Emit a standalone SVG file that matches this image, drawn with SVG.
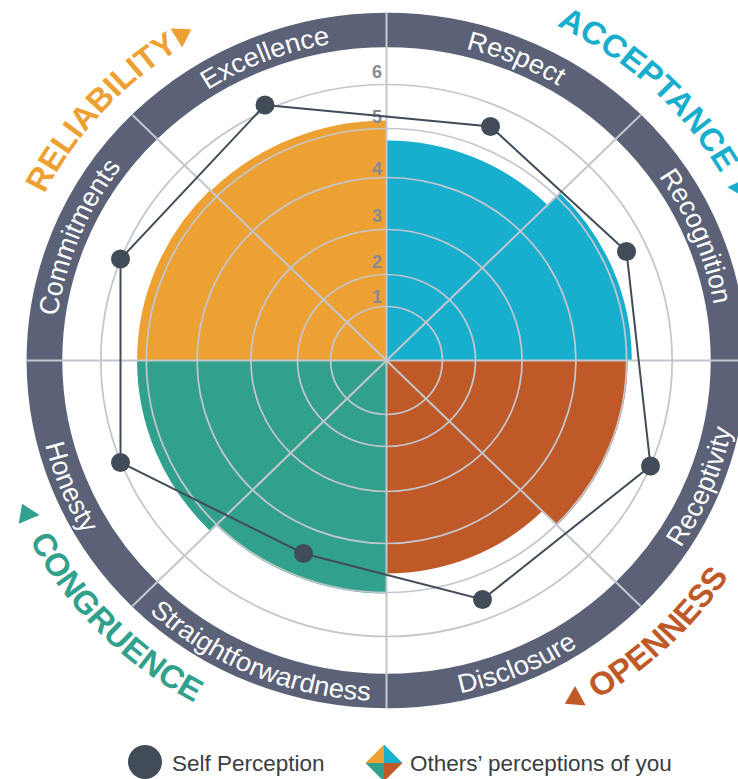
<svg xmlns="http://www.w3.org/2000/svg" width="738" height="779" viewBox="0 0 738 779">
<defs>
<style>
.grid{fill:none;stroke:#c3c6cd;stroke-width:1.7}
.spoke{stroke:#c3c6cd;stroke-width:2}
.ring{fill:none;stroke:#5b6176;stroke-width:34.5}
.rl{font-family:"Liberation Sans",Arial,sans-serif;font-size:26.5px;fill:#ffffff}
.cat{font-family:"Liberation Sans",Arial,sans-serif;font-size:32px;font-weight:bold}
.num{font-family:"Liberation Sans",Arial,sans-serif;font-size:18px;font-weight:bold;fill:#868b97;text-anchor:end}
.leg{font-family:"Liberation Sans",Arial,sans-serif;font-size:22.5px;fill:#3a3d42}
.dot{fill:#414c58}
.orange{fill:#eea133}.cyan{fill:#18aece}.red{fill:#bf5927}.teal{fill:#31a08c}
</style>
<path id="p-com" d="M -321,0 A 321 321 0 0 1 -226.98,-226.98"/>
<path id="p-exc" d="M -226.98,-226.98 A 321 321 0 0 1 0,-321"/>
<path id="p-res" d="M 0,-321 A 321 321 0 0 1 226.98,-226.98"/>
<path id="p-rec" d="M 226.98,-226.98 A 321 321 0 0 1 321,0"/>
<path id="p-rcp" d="M 240.77,240.77 A 340.5 340.5 0 0 0 340.5,0"/>
<path id="p-dis" d="M 0,340.5 A 340.5 340.5 0 0 0 240.77,240.77"/>
<path id="p-str" d="M -240.77,240.77 A 340.5 340.5 0 0 0 0,340.5"/>
<path id="p-hon" d="M -340.5,0 A 340.5 340.5 0 0 0 -240.77,240.77"/>
<path id="p-rel" d="M -369.77,-12.91 A 370 370 0 0 1 -51.49,-366.40"/>
<path id="p-acc" d="M 19.52,-372.49 A 373 373 0 0 1 370.22,-45.46"/>
<path id="p-ope" d="M 27.55,394.04 A 395 395 0 0 0 392.84,41.29"/>
<path id="p-con" d="M -387.80,30.52 A 389 389 0 0 0 -37.28,387.21"/>
<polygon id="tri" points="-8,-11 9,0 -8,11"/>
</defs>

<g transform="translate(386.5,360.5) scale(1.035,1)">
  <g id="fills">
    <path id="respect" class="cyan" d="M0,0 L0,-220 A220 220 0 0 1 155.56,-155.56 Z"/>
    <path id="recognition" class="cyan" d="M0,0 L167.58,-167.58 A237 237 0 0 1 237,0 Z"/>
    <path id="receptivity" class="red" d="M0,0 L233,0 A233 233 0 0 1 164.76,164.76 Z"/>
    <path id="disclosure" class="red" d="M0,0 L150.61,150.61 A213 213 0 0 1 0,213 Z"/>
    <path id="straightforwardness" class="teal" d="M0,0 L0,233 A233 233 0 0 1 -164.76,164.76 Z"/>
    <path id="honesty" class="teal" d="M0,0 L-170.41,170.41 A241 241 0 0 1 -241,0 Z"/>
    <path id="commitments" class="orange" d="M0,0 L-241,0 A241 241 0 0 1 -170.41,-170.41 Z"/>
    <path id="excellence" class="orange" d="M0,0 L-169.71,-169.71 A240 240 0 0 1 0,-240 Z"/>
  </g>
  <circle id="ring" class="ring" cx="0" cy="0" r="330.5"/>
  <g id="grid">
    <circle class="grid" r="54"/>
    <circle class="grid" r="86"/>
    <circle class="grid" r="131"/>
    <circle class="grid" r="183"/>
    <circle class="grid" r="232"/>
    <circle class="grid" r="276"/>
    <line class="spoke" x1="0" y1="0" x2="0" y2="-347.5"/>
    <line class="spoke" x1="0" y1="0" x2="245.72" y2="-245.72"/>
    <line class="spoke" x1="0" y1="0" x2="347.5" y2="0"/>
    <line class="spoke" x1="0" y1="0" x2="245.72" y2="245.72"/>
    <line class="spoke" x1="0" y1="0" x2="0" y2="347.5"/>
    <line class="spoke" x1="0" y1="0" x2="-245.72" y2="245.72"/>
    <line class="spoke" x1="0" y1="0" x2="-347.5" y2="0"/>
    <line class="spoke" x1="0" y1="0" x2="-245.72" y2="-245.72"/>
  </g>
  <g id="ring-labels">
    <text class="rl" text-anchor="middle"><textPath href="#p-com" startOffset="50%">Commitments</textPath></text>
    <text class="rl" text-anchor="middle"><textPath href="#p-exc" startOffset="53%">Excellence</textPath></text>
    <text class="rl" text-anchor="middle"><textPath href="#p-res" startOffset="50%">Respect</textPath></text>
    <text class="rl" text-anchor="middle"><textPath href="#p-rec" startOffset="50%">Recognition</textPath></text>
    <text class="rl" text-anchor="middle"><textPath href="#p-rcp" startOffset="50%">Receptivity</textPath></text>
    <text class="rl" text-anchor="middle"><textPath href="#p-dis" startOffset="50%">Disclosure</textPath></text>
    <text class="rl" text-anchor="middle"><textPath href="#p-str" startOffset="50%">Straightforwardness</textPath></text>
    <text class="rl" text-anchor="middle"><textPath href="#p-hon" startOffset="50%">Honesty</textPath></text>
  </g>
  <g id="reliability">
    <text class="cat orange" text-anchor="middle"><textPath href="#p-rel" startOffset="50%">RELIABILITY</textPath></text>
    <use href="#tri" class="orange" transform="rotate(329) translate(0,-381)"/>
  </g>
  <g id="acceptance">
    <text class="cat cyan" text-anchor="middle"><textPath href="#p-acc" startOffset="50%">ACCEPTANCE</textPath></text>
    <use href="#tri" class="cyan" transform="rotate(63.5) translate(0,-383)"/>
  </g>
  <g id="openness">
    <text class="cat red" text-anchor="middle"><textPath href="#p-ope" startOffset="50%">OPENNESS</textPath></text>
    <use href="#tri" class="red" transform="rotate(152) translate(0,-384)"/>
  </g>
  <g id="congruence">
    <text class="cat teal" text-anchor="middle"><textPath href="#p-con" startOffset="50%">CONGRUENCE</textPath></text>
    <use href="#tri" class="teal" transform="rotate(246.5) translate(0,-380)"/>
  </g>
</g>

<g id="scale">
  <text class="num" x="382" y="78">6</text>
  <text class="num" x="382" y="123">5</text>
  <text class="num" x="382" y="175">4</text>
  <text class="num" x="382" y="222">3</text>
  <text class="num" x="382" y="268">2</text>
  <text class="num" x="382" y="303">1</text>
</g>

<g id="connectors">
  <polygon points="265,105 490.5,126.5 626.5,251.5 650.5,466 482.5,599.5 303.5,553.5 120.5,462.5 120.5,259" fill="none" stroke="#414c58" stroke-width="2"/>
</g>
<g id="self-dots">
  <circle class="dot" cx="265" cy="105" r="9.5"/>
  <circle class="dot" cx="490.5" cy="126.5" r="9.5"/>
  <circle class="dot" cx="626.5" cy="251.5" r="9.5"/>
  <circle class="dot" cx="650.5" cy="466" r="9.5"/>
  <circle class="dot" cx="482.5" cy="599.5" r="9.5"/>
  <circle class="dot" cx="303.5" cy="553.5" r="9.5"/>
  <circle class="dot" cx="120.5" cy="462.5" r="9.5"/>
  <circle class="dot" cx="120.5" cy="259" r="9.5"/>
</g>

<g id="legend">
  <circle class="dot" cx="145" cy="762" r="17"/>
  <text class="leg" x="172" y="771">Self Perception</text>
  <polygon class="orange" points="365.5,763 384,744.5 384,763"/>
  <polygon class="cyan" points="384,744.5 402.5,763 384,763"/>
  <polygon class="red" points="402.5,763 384,781.5 384,763"/>
  <polygon class="teal" points="384,781.5 365.5,763 384,763"/>
  <text class="leg" x="410" y="771">Others’ perceptions of you</text>
</g>
</svg>
